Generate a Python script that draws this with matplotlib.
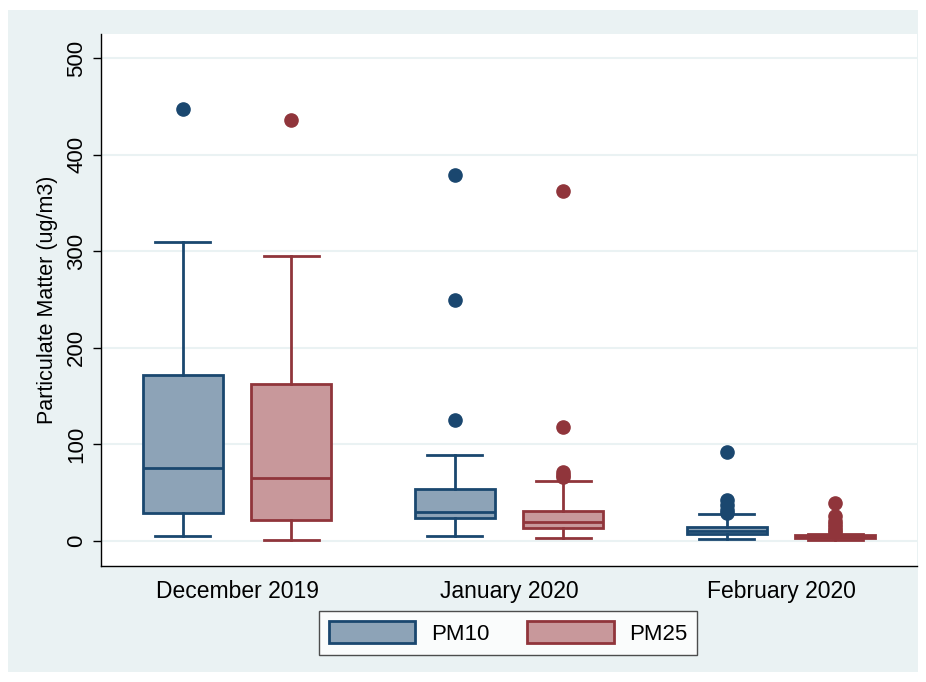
import matplotlib
matplotlib.use("Agg")
import matplotlib.pyplot as plt
from matplotlib.patches import Patch

plt.rcParams['font.family'] = ['Liberation Sans', 'DejaVu Sans']

months = ["December 2019", "January 2020", "February 2020"]
series = ["PM10", "PM25"]

# box stats per month: [whislo, q1, median, q3, whishi]
pm10_stats = [[5, 29, 76, 172, 310], [5, 24, 30, 54, 89], [2, 7, 10, 14, 28]]
pm25_stats = [[1, 22, 65, 163, 295], [3, 13, 20, 31, 62], [1, 3, 4, 6, 7]]
pm10_outliers = [[447], [379, 250, 125], [92, 42, 37, 32, 29]]
pm25_outliers = [[436], [362, 118, 71, 68, 66], [39, 26, 21, 17, 14, 11, 9]]

edge_colors = {"PM10": "#1A476F", "PM25": "#90353B"}
fill_colors = {"PM10": "#8DA3B7", "PM25": "#C8989B"}

fig = plt.figure(figsize=(9.26, 6.82), dpi=100)
fig.patch.set_facecolor("white")
bg = plt.Rectangle((8 / 926, 10 / 682), 910 / 926, 662 / 682, transform=fig.transFigure,
                   facecolor="#EAF2F3", edgecolor="none", zorder=-10)
fig.patches.append(bg)

ax = fig.add_axes([101 / 926, 1 - 566 / 682, 816 / 926, 532 / 682])
ax.set_facecolor("white")

def make_stats(stats, outl):
    out = []
    for s, o in zip(stats, outl):
        out.append(dict(whislo=s[0], q1=s[1], med=s[2], q3=s[3], whishi=s[4], fliers=o))
    return out

offset = 0.2
width = 0.294
for name, stats, outl, sign in [("PM10", pm10_stats, pm10_outliers, -1),
                                ("PM25", pm25_stats, pm25_outliers, 1)]:
    ec = edge_colors[name]
    fc = fill_colors[name]
    pos = [i + sign * offset for i in range(len(months))]
    ax.bxp(make_stats(stats, outl), positions=pos, widths=width, patch_artist=True,
           showfliers=True,
           boxprops=dict(facecolor=fc, edgecolor=ec, linewidth=2),
           medianprops=dict(color=ec, linewidth=2),
           whiskerprops=dict(color=ec, linewidth=2),
           capprops=dict(color=ec, linewidth=2),
           capwidths=width * 0.68,
           flierprops=dict(marker="o", markerfacecolor=ec, markeredgecolor=ec, markersize=9.5))

ax.set_xlim(-0.5, 2.5)
ax.set_ylim(-26, 525)
ax.set_yticks([0, 100, 200, 300, 400, 500])
ax.set_yticklabels(["0", "100", "200", "300", "400", "500"], rotation=90, va="center", fontsize=16)
ax.set_xticks(range(len(months)))
ax.set_xticklabels(months, fontsize=16.5)
ax.tick_params(axis="x", length=0, pad=10)
ax.tick_params(axis="y", length=6, width=1, pad=4)
ax.yaxis.grid(True, color="#EAF2F3", linewidth=1.5)
ax.set_axisbelow(True)
for sp in ["top", "right"]:
    ax.spines[sp].set_visible(False)
for sp in ["left", "bottom"]:
    ax.spines[sp].set_color("#000000")
    ax.spines[sp].set_linewidth(1)
ax.set_ylabel("Particulate Matter (ug/m3)", fontsize=15.5, labelpad=6)

handles = [Patch(facecolor=fill_colors[s], edgecolor=edge_colors[s], linewidth=2, label=s) for s in series]
leg = fig.legend(handles=handles, loc="center", bbox_to_anchor=(508 / 926, 1 - 633 / 682), ncol=2,
                 fontsize=16, frameon=True, fancybox=False, handlelength=3.9, handleheight=1.1,
                 columnspacing=1.7, handletextpad=0.7, borderpad=0.45)
leg.get_frame().set_edgecolor("#222222")
leg.get_frame().set_linewidth(1)
leg.get_frame().set_facecolor("white")

fig.savefig("out.png", dpi=100)
